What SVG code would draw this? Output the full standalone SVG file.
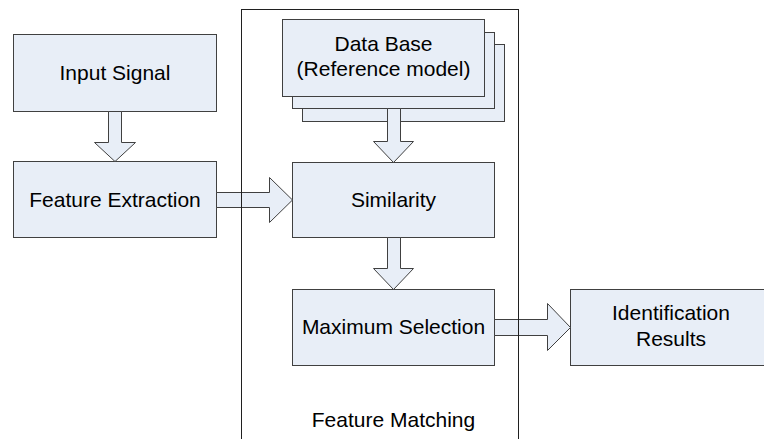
<svg xmlns="http://www.w3.org/2000/svg" width="764" height="439" viewBox="0 0 764 439">
<style>
.box{fill:#E8EEF7;stroke:#404040;stroke-width:1}
.arr{fill:#E8EEF7;stroke:#404040;stroke-width:1;stroke-linejoin:miter}
.t{font-family:"Liberation Sans",Arial,sans-serif;font-size:21px;fill:#000;text-anchor:middle}
.frame{fill:none;stroke:#202020;stroke-width:1}
</style>
<rect x="0" y="0" width="764" height="439" fill="#fff"/>
<g id="input-signal">
<rect class="box" x="13.5" y="34.5" width="203" height="77"/>
<text class="t" x="115" y="80">Input Signal</text>
</g>
<g id="feature-extraction">
<rect class="box" x="13.5" y="161.5" width="203" height="76"/>
<text class="t" x="115" y="207">Feature Extraction</text>
</g>
<g id="database">
<rect class="box" x="302.5" y="44.5" width="202" height="77"/>
<rect class="box" x="292.5" y="32.5" width="202" height="76"/>
<rect class="box" x="282.5" y="19.5" width="202" height="77"/>
<text class="t" x="383.5" y="51">Data Base</text>
<text class="t" x="383.5" y="76">(Reference model)</text>
</g>
<g id="similarity">
<rect class="box" x="292.5" y="162.5" width="202" height="75"/>
<text class="t" x="393.5" y="207">Similarity</text>
</g>
<g id="maximum-selection">
<rect class="box" x="292.5" y="289.5" width="202" height="76"/>
<text class="t" x="393.5" y="334">Maximum Selection</text>
</g>
<g id="identification-results">
<rect class="box" x="570.5" y="289.5" width="202" height="76"/>
<text class="t" x="671" y="320">Identification</text>
<text class="t" x="671" y="346">Results</text>
</g>
<g id="connectors">
<polygon class="arr" points="108.5,111.5 121.5,111.5 121.5,142.5 135.5,142.5 115,161.5 94.5,142.5 108.5,142.5"/>
<polygon class="arr" points="216.5,192.5 269.5,192.5 269.5,177.5 292.5,200 269.5,222.5 269.5,207.5 216.5,207.5"/>
<polygon class="arr" points="387.5,108.5 400.5,108.5 400.5,141.5 413.5,141.5 393.5,162.5 373.5,141.5 387.5,141.5"/>
<polygon class="arr" points="387.5,237.5 400.5,237.5 400.5,268.5 413.5,268.5 393.5,289.5 373.5,268.5 387.5,268.5"/>
<polygon class="arr" points="494.5,319.5 547.5,319.5 547.5,303.5 570.5,327.5 547.5,350.5 547.5,335.5 494.5,335.5"/>
</g>
<g id="feature-matching">
<rect class="frame" x="241.5" y="9.5" width="277" height="440"/>
<text class="t" x="393.5" y="427">Feature Matching</text>
</g>
</svg>
